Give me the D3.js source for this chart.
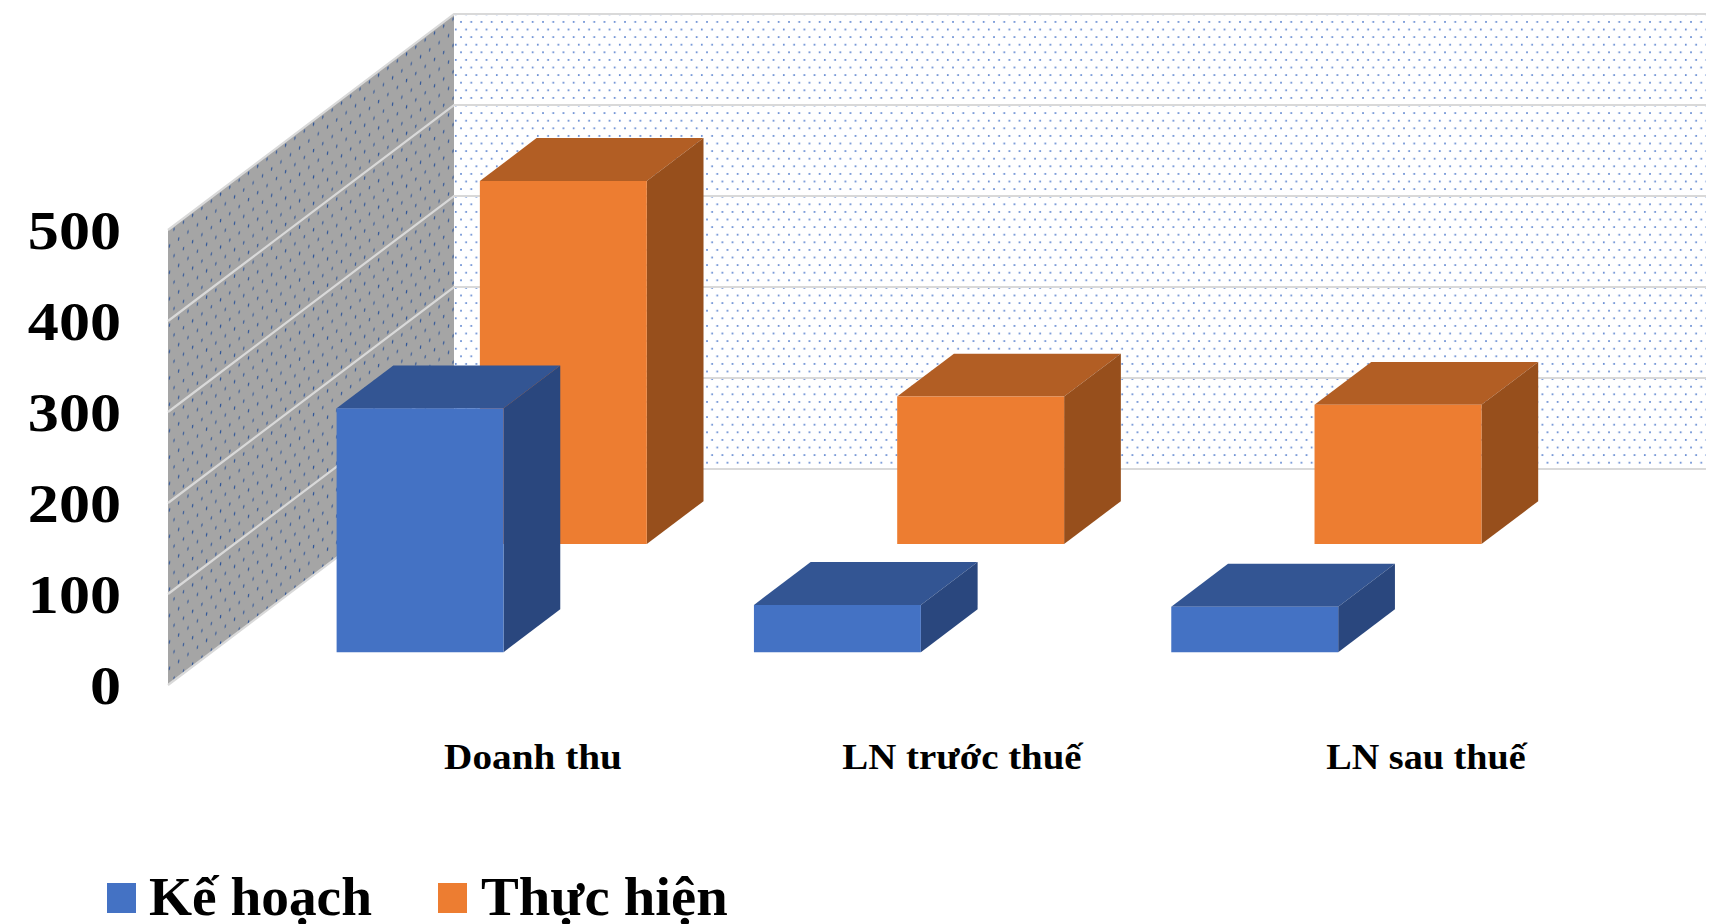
<!DOCTYPE html>
<html>
<head>
<meta charset="utf-8">
<script src="https://cdn.jsdelivr.net/npm/d3@7"></script>
<style>
html, body { margin: 0; padding: 0; background: #fff; overflow: hidden; }
text { font-family: "Liberation Serif", serif; font-weight: bold; fill: #000; }
</style>
</head>
<body>
<svg id="chart" width="1714" height="924"></svg>
<script>
var categories = ["Doanh thu", "LN trước thuế", "LN sau thuế"];
var series_names = ["Kế hoạch", "Thực hiện"];
var ke_hoach = [268, 52, 50];
var thuc_hien = [399, 162, 153];
var y_ticks = [0, 100, 200, 300, 400, 500];
var series_values = [ke_hoach, thuc_hien];
var front_colors = ["#4472c4", "#ed7d31"];
var top_colors = ["#335593", "#b25e24"];
var side_colors = ["#2a477e", "#974f1c"];

var svg = d3.select("#chart");

// oblique projection: depth moves up and to the right
var depth_px = 216;
var depth_dx = 286 / 216;
var x = d3.scaleBand().domain(categories).range([168, 1420]).paddingInner(0.6).paddingOuter(0.3);
var y = d3.scaleLinear().domain([0, 500]).range([685, 230]);
var z = d3.scaleBand().domain(series_names).range([0, 216.6]).paddingInner(0.604).paddingOuter(0.303);

function project(px, value, depth) {
    return [px + depth * depth_dx, y(value) - depth];
}
function poly(points) {
    return points.map(function(p) { return p.join(","); }).join(" ");
}
// widen a text to the given factor of its natural length
function stretch(sel, k) {
    sel.each(function() {
        d3.select(this)
            .attr("textLength", this.getComputedTextLength() * k)
            .attr("lengthAdjust", "spacingAndGlyphs");
    });
}

// dotted fills for the two walls
var defs = svg.append("defs");
var back_pat = defs.append("pattern").attr("id", "dots_back")
    .attr("patternUnits", "userSpaceOnUse").attr("width", 20.5).attr("height", 15.2)
    .attr("x", 459).attr("y", 20);
back_pat.selectAll("circle").data([[0, 0], [10.25, 0], [5.1, 7.6], [15.35, 7.6]]).join("circle")
    .attr("cx", function(d) { return d[0] + 2; })
    .attr("cy", function(d) { return d[1] + 2; })
    .attr("r", 0.95)
    .attr("fill", "#4f7acb");
var side_pat = defs.append("pattern").attr("id", "dots_side")
    .attr("patternUnits", "userSpaceOnUse").attr("width", 9.3).attr("height", 26.4)
    .attr("patternTransform", "skewY(-37)");
side_pat.append("rect").attr("width", 9.3).attr("height", 26.4).attr("fill", "#a5a5a5");
side_pat.selectAll("ellipse").data([[0, 0], [4.65, 13.2]]).join("ellipse")
    .attr("cx", function(d) { return d[0] + 2; })
    .attr("cy", function(d) { return d[1] + 4; })
    .attr("rx", 0.65)
    .attr("ry", 1.8)
    .attr("fill", "#2f5597");

var x0 = x.range()[0], x1 = x.range()[1];

svg.append("polygon")
    .attr("points", poly([project(x0, 0, depth_px), project(x1, 0, depth_px), project(x1, 500, depth_px), project(x0, 500, depth_px)]))
    .attr("fill", "url(#dots_back)");
svg.append("polygon")
    .attr("points", poly([project(x0, 0, 0), project(x0, 0, depth_px), project(x0, 500, depth_px), project(x0, 500, 0)]))
    .attr("fill", "url(#dots_side)");

// gridlines run along the side wall and then across the back wall
svg.append("g").selectAll("polyline").data(y_ticks).join("polyline")
    .attr("points", function(d) { return poly([project(x0, d, 0), project(x0, d, depth_px), project(x1, d, depth_px)]); })
    .attr("fill", "none")
    .attr("stroke", "#d9d9d9")
    .attr("stroke-width", 2.2);

// orange row sits behind the blue row
[1, 0].forEach(function(s) {
    var name = series_names[s];
    var zf = z(name), zb = zf + z.bandwidth();
    var g = svg.append("g");
    categories.forEach(function(c, i) {
        var v = series_values[s][i];
        var xl = x(c), xr = xl + x.bandwidth();
        g.append("polygon")
            .attr("points", poly([project(xl, v, zf), project(xr, v, zf), project(xr, v, zb), project(xl, v, zb)]))
            .attr("fill", top_colors[s]);
        g.append("polygon")
            .attr("points", poly([project(xr, 0, zf), project(xr, 0, zb), project(xr, v, zb), project(xr, v, zf)]))
            .attr("fill", side_colors[s]);
        g.append("polygon")
            .attr("points", poly([project(xl, 0, zf), project(xr, 0, zf), project(xr, v, zf), project(xl, v, zf)]))
            .attr("fill", front_colors[s]);
    });
});

// value axis
var axis_g = svg.append("g")
    .attr("transform", "translate(129,1)")
    .call(d3.axisLeft(y).tickValues(y_ticks).tickSize(0).tickPadding(8));
axis_g.select(".domain").remove();
axis_g.selectAll("text")
    .style("font-family", '"Liberation Serif", serif')
    .style("font-size", "54px")
    .style("font-weight", "bold")
    .attr("fill", "#000")
    .call(stretch, 1.15);

// category labels sit under the gap between the two bars of each group
var label_x = [533, 962, 1426];
var label_stretch = [1.09, 1.08, 1.06];
svg.append("g").selectAll("text").data(categories).join("text")
    .attr("x", function(d, i) { return label_x[i]; })
    .attr("y", 769)
    .attr("text-anchor", "middle")
    .style("font-size", "36px")
    .text(function(d) { return d; })
    .each(function(d, i) { d3.select(this).call(stretch, label_stretch[i]); });

// legend
var legend_x = [107, 438];
var legend_text_x = [42, 43];
var legend_stretch = [1.025, 1.05];
var legend = svg.append("g").selectAll("g").data(series_names).join("g")
    .attr("transform", function(d, i) { return "translate(" + legend_x[i] + ",0)"; });
legend.append("rect")
    .attr("y", 883).attr("width", 29).attr("height", 30)
    .attr("fill", function(d, i) { return front_colors[i]; });
legend.append("text")
    .attr("x", function(d, i) { return legend_text_x[i]; })
    .attr("y", 915)
    .style("font-size", "54px")
    .text(function(d) { return d; })
    .each(function(d, i) { d3.select(this).call(stretch, legend_stretch[i]); });
</script>
</body>
</html>
